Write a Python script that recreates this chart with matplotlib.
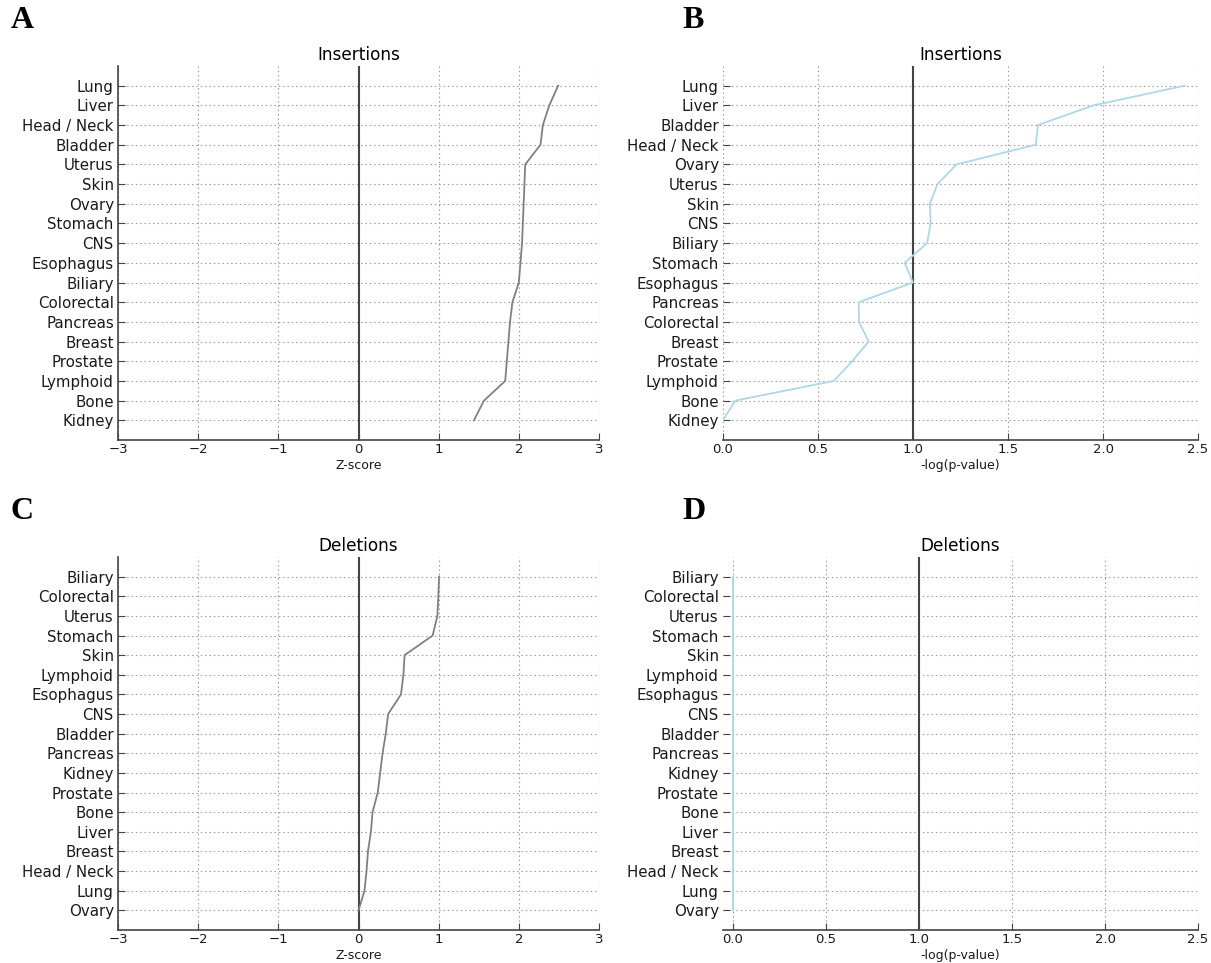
import matplotlib
matplotlib.use("Agg")
import matplotlib.pyplot as plt
import numpy as np

# Panel A: insertion Z-scores by tissue (top to bottom)
ins_z_labels = ["Lung", "Liver", "Head / Neck", "Bladder", "Uterus", "Skin", "Ovary",
                "Stomach", "CNS", "Esophagus", "Biliary", "Colorectal", "Pancreas",
                "Breast", "Prostate", "Lymphoid", "Bone", "Kidney"]
ins_z_values = [2.49, 2.38, 2.30, 2.27, 2.08, 2.07, 2.06, 2.05, 2.04, 2.02, 2.00,
                1.92, 1.89, 1.87, 1.85, 1.83, 1.565, 1.44]

# Panel B: insertion -log(p-value) by tissue
ins_p_labels = ["Lung", "Liver", "Bladder", "Head / Neck", "Ovary", "Uterus", "Skin",
                "CNS", "Biliary", "Stomach", "Esophagus", "Pancreas", "Colorectal",
                "Breast", "Prostate", "Lymphoid", "Bone", "Kidney"]
ins_p_values = [2.43, 1.95, 1.658, 1.646, 1.229, 1.129, 1.089, 1.093, 1.074, 0.956,
                1.0, 0.714, 0.716, 0.767, 0.68, 0.583, 0.065, 0.0]

# Panel C: deletion Z-scores by tissue
del_z_labels = ["Biliary", "Colorectal", "Uterus", "Stomach", "Skin", "Lymphoid",
                "Esophagus", "CNS", "Bladder", "Pancreas", "Kidney", "Prostate",
                "Bone", "Liver", "Breast", "Head / Neck", "Lung", "Ovary"]
del_z_values = [1.005, 0.996, 0.984, 0.925, 0.575, 0.56, 0.53, 0.37, 0.34, 0.30,
                0.27, 0.24, 0.175, 0.155, 0.118, 0.10, 0.075, 0.0]

# Panel D: deletion -log(p-value) by tissue
del_p_labels = del_z_labels
del_p_values = [0.0] * len(del_p_labels)

W, H = 1211, 963
fig = plt.figure(figsize=(W / 100, H / 100), dpi=100)


def px_axes(left, right, top, bottom):
    return fig.add_axes([left / W, 1 - bottom / H, (right - left) / W, (bottom - top) / H])


def draw(ax, labels, values, color, ref, xlim, xticks, xlabel, title, left_spine):
    n = len(labels)
    y = np.arange(n)[::-1]
    ax.plot(values, y, color=color, lw=1.3, zorder=3)
    ax.axvline(ref, color="#444444", lw=1.5, zorder=2)
    ax.set_ylim(-1, n)
    ax.set_xlim(*xlim)
    ax.set_yticks(y)
    ax.set_yticklabels(labels, fontsize=10.8, color="#1a1a1a")
    ax.set_xticks(xticks)
    ax.tick_params(axis="x", labelsize=9.5, direction="in", length=5, color="#444444",
                   pad=2, top=False, labelcolor="#1a1a1a")
    ax.tick_params(axis="y", direction="in", length=5, color="#444444", pad=3,
                   right=False)
    ax.grid(True, linestyle=(0, (1.3, 2.6)), color="#999999", lw=0.8)
    for s in ("top", "right"):
        ax.spines[s].set_visible(False)
    ax.spines["left"].set_visible(left_spine)
    ax.spines["left"].set_color("#444444")
    ax.spines["bottom"].set_color("#444444")
    ax.spines["left"].set_linewidth(1.2)
    ax.spines["bottom"].set_linewidth(1.2)
    ax.set_xlabel(xlabel, fontsize=9, labelpad=2, color="#1a1a1a")
    ax.set_title(title, fontsize=12.2, pad=4)
    ax.set_axisbelow(True)


zticks = [-3, -2, -1, 0, 1, 2, 3]
pticks = [0.0, 0.5, 1.0, 1.5, 2.0, 2.5]

axA = px_axes(118, 599, 66, 440)
draw(axA, ins_z_labels, ins_z_values, "#808080", 0, (-3, 3), zticks, "Z-score",
     "Insertions", True)
axB = px_axes(723, 1198, 66, 440)
draw(axB, ins_p_labels, ins_p_values, "#add8e6", 1.0, (0, 2.5), pticks,
     "-log(p-value)", "Insertions", False)
axC = px_axes(118, 599, 557, 930)
draw(axC, del_z_labels, del_z_values, "#808080", 0, (-3, 3), zticks, "Z-score",
     "Deletions", True)
axD = px_axes(723, 1198, 557, 930)
draw(axD, del_p_labels, del_p_values, "#add8e6", 1.0, (-0.054, 2.5), pticks,
     "-log(p-value)", "Deletions", False)

for letter, x, y in [("A", 11, 28), ("B", 682, 28), ("C", 11, 519), ("D", 682, 519)]:
    fig.text(x / W, 1 - y / H, letter, fontsize=23, fontweight="bold",
             family="Liberation Serif", ha="left", va="baseline")

fig.savefig("out.png", dpi=100)
